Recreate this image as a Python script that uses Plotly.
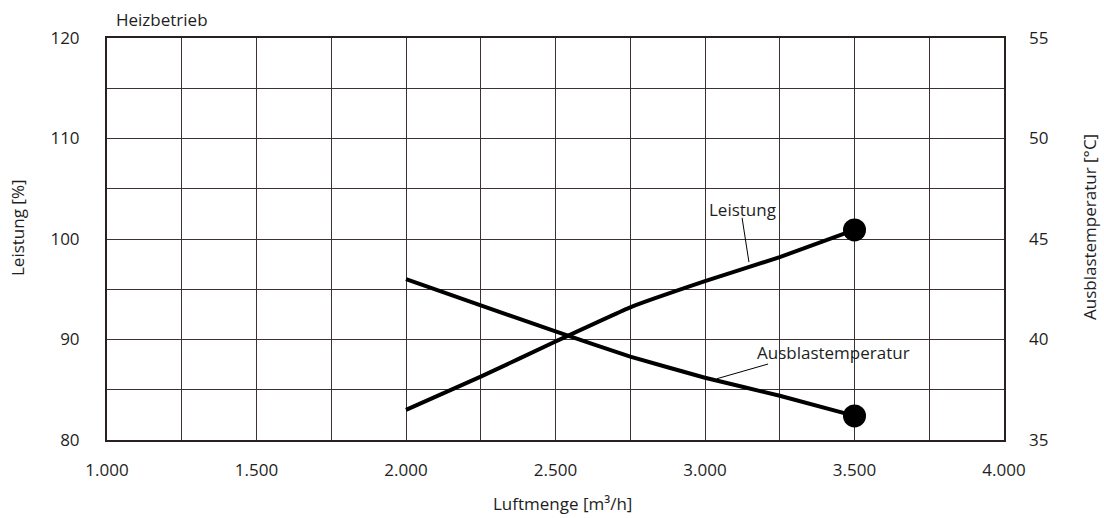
import plotly.graph_objects as go

# Data
luftmenge = [2000, 2250, 2500, 2750, 3000, 3250, 3500]
leistung = [83.0, 86.3, 89.8, 93.2, 95.8, 98.2, 100.9]
ausblas = [43.0, 41.7, 40.4, 39.15, 38.1, 37.2, 36.2]

x_tickvals = [1000, 1500, 2000, 2500, 3000, 3500, 4000]
x_ticktext = ["1.000", "1.500", "2.000", "2.500", "3.000", "3.500", "4.000"]
y_tickvals = [80, 90, 100, 110, 120]
y2_tickvals = [35, 40, 45, 50, 55]

FONT = "Open Sans"
TXT = "#1e1e1e"
GRID = "#3d3030"
FS = 17

W, H = 1104, 518
# plot area in page pixels
L, R, T, B = 107, 1004, 38, 440
PW, PH = R - L, B - T


def px(xp):
    return (xp - L) / PW


def py(yp):
    return (B - yp) / PH


marker_sizes = [0] * (len(luftmenge) - 1) + [23]

fig = go.Figure()
for yvals, yax in ((leistung, "y"), (ausblas, "y2")):
    fig.add_trace(go.Scatter(
        x=luftmenge, y=yvals, mode="lines+markers", yaxis=yax,
        line=dict(color="black", width=4, shape="spline", smoothing=0.3),
        marker=dict(size=marker_sizes, color="black", opacity=1, line=dict(width=0)),
        showlegend=False, hoverinfo="skip"))

# leader lines
fig.add_shape(type="line", xref="x", yref="y", x0=3124, y0=102.1, x1=3147, y1=97.7,
              line=dict(color="black", width=1))
fig.add_shape(type="line", xref="x", yref="y2", x0=3211, y0=38.78, x1=3040, y1=38.05,
              line=dict(color="black", width=1))

tfont = dict(family=FONT, size=FS, color=TXT)
fig.add_annotation(x=3124, y=102.9, xref="x", yref="y", text="Leistung", showarrow=False,
                   font=tfont)
fig.add_annotation(x=3168, y=39.33, xref="x", yref="y2", text="Ausblastemperatur", showarrow=False,
                   xanchor="left", font=tfont)
fig.add_annotation(x=px(162), y=py(19), xref="paper", yref="paper", text="Heizbetrieb",
                   showarrow=False, xanchor="center", yanchor="middle", font=tfont)
# axis titles
fig.add_annotation(x=px(18), y=py(228), xref="paper", yref="paper", text="Leistung [%]",
                   showarrow=False, textangle=-90, xanchor="center", yanchor="middle", font=tfont)
fig.add_annotation(x=px(1089), y=py(227), xref="paper", yref="paper", text="Ausblastemperatur [°C]",
                   showarrow=False, textangle=-90, xanchor="center", yanchor="middle", font=tfont)
fig.add_annotation(x=px(562), y=py(503), xref="paper", yref="paper", text="Luftmenge [m³/h]",
                   showarrow=False, xanchor="center", yanchor="middle", font=tfont)

fig.update_layout(
    width=W, height=H,
    margin=dict(l=L, r=W - R, t=T, b=H - B, pad=0),
    paper_bgcolor="white", plot_bgcolor="white",
    font=dict(family=FONT, size=FS, color=TXT),
    xaxis=dict(
        range=[1000, 4000], tickvals=x_tickvals, ticktext=x_ticktext,
        showgrid=True, gridcolor=GRID, gridwidth=1,
        minor=dict(dtick=250, tick0=1000, showgrid=True, gridcolor=GRID, gridwidth=1),
        showline=True, linecolor="#2a2020", linewidth=2, mirror=True,
        ticks="", zeroline=False, ticklabelstandoff=14, automargin=False,
    ),
    yaxis=dict(
        range=[80, 120], tickvals=y_tickvals,
        showgrid=True, gridcolor=GRID, gridwidth=1,
        minor=dict(dtick=5, tick0=80, showgrid=True, gridcolor=GRID, gridwidth=1),
        showline=True, linecolor="#2a2020", linewidth=2, mirror=True,
        ticks="", zeroline=False, ticklabelstandoff=22, automargin=False,
    ),
    yaxis2=dict(
        range=[35, 55], tickvals=y2_tickvals, overlaying="y", side="right",
        showgrid=False, zeroline=False, ticks="", ticklabelstandoff=24, automargin=False,
    ),
)

fig.write_html(
    "out.html",
    config={"displayModeBar": False},
    post_script="document.body.style.margin='0';document.body.style.overflow='hidden';",
)
